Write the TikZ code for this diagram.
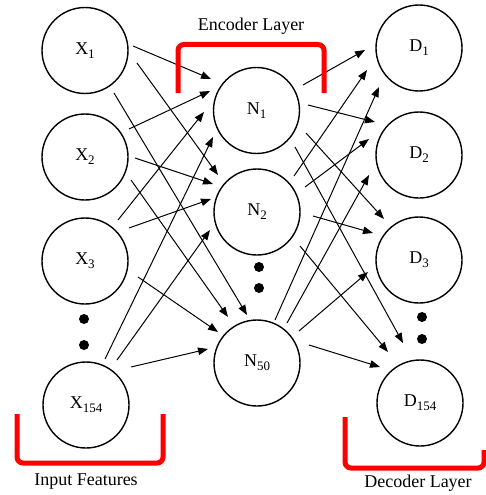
\documentclass[tikz,border=0pt]{standalone}
\usepackage{fontspec}
\setmainfont{Liberation Serif}
\usetikzlibrary{arrows.meta,calc}
\newcommand{\lbl}[2]{#1\raisebox{-4pt}{\fontsize{13}{13}\selectfont #2}}
\begin{document}
\begin{tikzpicture}[x=1pt,y=-1pt,
  neuron/.style={draw=black,line width=1.4pt,circle,minimum size=86pt,inner sep=0pt,font=\fontsize{18}{18}\selectfont},
  arr/.style={draw=black,line width=1pt,-{Triangle[length=10pt,width=7.5pt]}},
  dotn/.style={fill=black,circle,minimum size=10pt,inner sep=0pt},
  brk/.style={draw=red,line width=5pt,rounded corners=6pt},
  captxt/.style={font=\fontsize{18}{18}\selectfont,inner sep=0pt}]
\useasboundingbox (0,0) rectangle (486,495);
% nodes
\node[neuron] (x1) at (85,50.5) {\lbl{X}{1}};
\node[neuron] (x2) at (85,157) {\lbl{X}{2}};
\node[neuron] (x3) at (85,261) {\lbl{X}{3}};
\node[neuron] (x154) at (86,405) {\lbl{X}{154}};
\node[neuron] (n1) at (256.5,110.5) {\lbl{N}{1}};
\node[neuron] (n2) at (257,212) {\lbl{N}{2}};
\node[neuron] (n50) at (257,363) {\lbl{N}{50}};
\node[neuron] (d1) at (419,48) {\lbl{D}{1}};
\node[neuron] (d2) at (419,155) {\lbl{D}{2}};
\node[neuron] (d3) at (419,260) {\lbl{D}{3}};
\node[neuron] (d154) at (420,403) {\lbl{D}{154}};
% dots
\node[dotn] (xa) at (84,319) {};
\node[dotn] (xb) at (84,345) {};
\node[dotn] (na) at (259,267) {};
\node[dotn] (nb) at (259,288) {};
\node[dotn] (da) at (422,317) {};
\node[dotn] (db) at (422,339) {};
% input -> encoder
\draw[arr] ($(x1)+(48,-4.5)$) -- ($(n1)+(-45.5,-31.5)$);
\draw[arr] ($(x1)+(52,12.5)$) -- ($(n2)+(-39,-37)$);
\draw[arr] ($(x1)+(29,42.5)$) -- ($(n50)+(-10,-48)$);
\draw[arr] ($(x2)+(44,-28)$) -- ($(n1)+(-46.5,-19.5)$);
\draw[arr] ($(x2)+(50,1)$) -- ($(n2)+(-44,-28)$);
\draw[arr] ($(x2)+(46,23)$) -- ($(n50)+(-29,-46)$);
\draw[arr] ($(x3)+(33,-41)$) -- ($(n1)+(-52.5,1.5)$);
\draw[arr] ($(x3)+(44,-33)$) -- ($(n2)+(-46,-13)$);
\draw[arr] ($(x3)+(53,16)$) -- ($(n50)+(-39,-31)$);
\draw[arr] ($(x154)+(19,-46)$) -- ($(n1)+(-43.5,26.5)$);
\draw[arr] ($(x154)+(31,-45)$) -- ($(n2)+(-47,18)$);
\draw[arr] ($(x154)+(45,-38)$) -- ($(n50)+(-49,-14)$);
% encoder -> decoder
\draw[arr] ($(n1)+(46.5,-25.5)$) -- ($(d1)+(-54,2)$);
\draw[arr] ($(n1)+(51.5,-5.5)$) -- ($(d2)+(-44,-33)$);
\draw[arr] ($(n1)+(49.5,22.5)$) -- ($(d3)+(-35,-41)$);
\draw[arr] ($(n1)+(38.5,36.5)$) -- ($(d154)+(-17,-60)$);
\draw[arr] ($(n2)+(37,-36)$) -- ($(d1)+(-52,22)$);
\draw[arr] ($(n2)+(48,-25)$) -- ($(d2)+(-50,-16)$);
\draw[arr] ($(n2)+(56,4)$) -- ($(d3)+(-46,-27)$);
\draw[arr] ($(n2)+(43,34)$) -- ($(d154)+(-32,-51)$);
\draw[arr] ($(n50)+(18,-43)$) -- ($(d1)+(-40,39)$);
\draw[arr] ($(n50)+(30,-40)$) -- ($(d2)+(-50,20)$);
\draw[arr] ($(n50)+(42,-32)$) -- ($(d3)+(-51,12)$);
\draw[arr] ($(n50)+(52,-18)$) -- ($(d154)+(-40,-36)$);
% brackets
\draw[brk] (178,93) -- (178,44.5) -- (324,44.5) -- (324,93);
\draw[brk] (17,414) -- (17,463) -- (163,463) -- (163,414);
\draw[brk] (345,417) -- (345,468) -- (484,468) -- (484,450);
% captions
\node[captxt] (enc) at (251,26) {Encoder Layer};
\node[captxt] (inp) at (86,482) {Input Features};
\node[captxt] (dec) at (418,483) {Decoder Layer};
\end{tikzpicture}
\end{document}
